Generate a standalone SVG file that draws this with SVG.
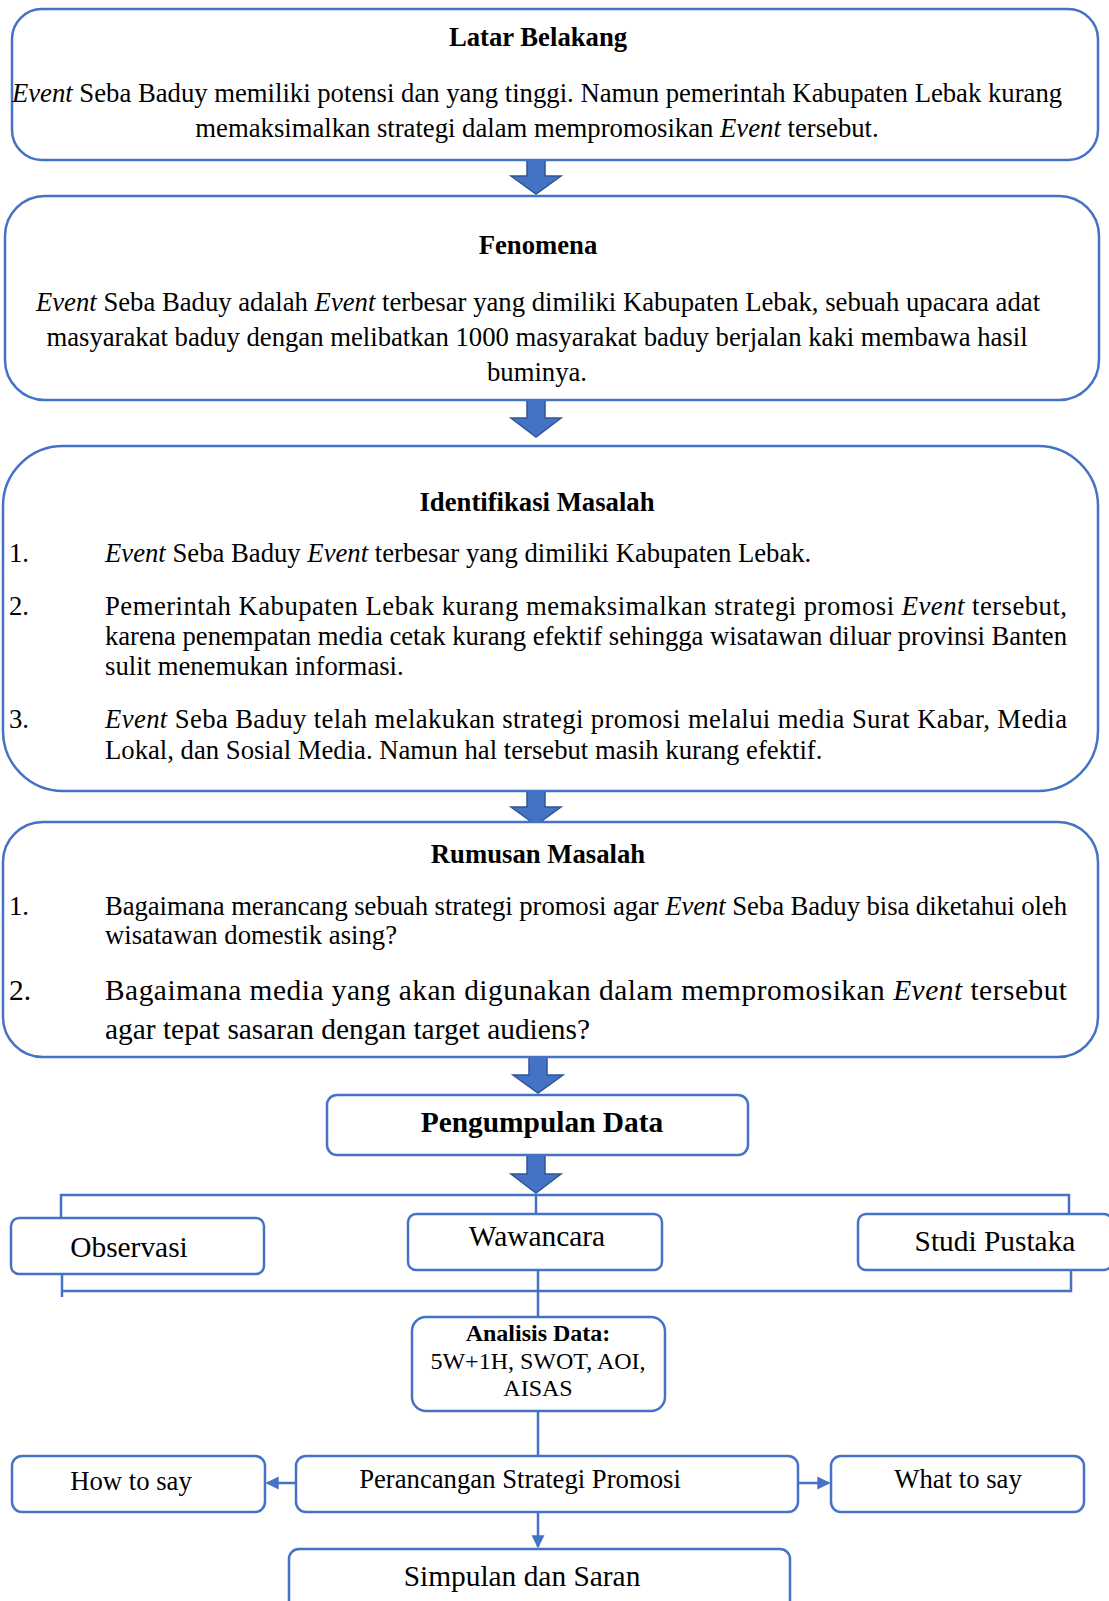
<svg xmlns="http://www.w3.org/2000/svg" width="1109" height="1601" viewBox="0 0 1109 1601">
<style>
.box{fill:#fff;stroke:#4472C4;stroke-width:2.5}
.blk{fill:#4472C4;stroke:#2F5597;stroke-width:1.5}
.ln{fill:none;stroke:#4472C4;stroke-width:2.5}
.t{font-family:"Liberation Serif","Times New Roman",serif;fill:#000}
.b{font-weight:bold}
.c{text-anchor:middle}
.i{font-style:italic}
.s26{font-size:26.7px}
.s24{font-size:24px}
.s29{font-size:29.4px}
</style>
<defs>
<marker id="ah" viewBox="0 0 10 10" refX="9" refY="5" markerWidth="13" markerHeight="14" markerUnits="userSpaceOnUse" orient="auto">
<path d="M0,0 L10,5 L0,10 Z" fill="#4472C4"/>
</marker>
</defs>
<rect width="1109" height="1601" fill="#fff"/>

<g id="connectors">
<path class="blk" d="M527,158 H545 V176 H561 L536,194 L511,176 H527 Z"/>
<path class="blk" d="M527,400 H545 V418 H561 L536,437 L511,418 H527 Z"/>
<path class="blk" d="M527,789 H545 V807 H561 L536,825 L511,807 H527 Z"/>
<path class="blk" d="M529,1057 H547 V1075 H563 L538,1093 L513,1075 H529 Z"/>
<path class="blk" d="M527,1155 H545 V1174 H561 L536,1193 L511,1174 H527 Z"/>
<path class="ln" d="M61,1218 V1195 H1069 V1214"/>
<path class="ln" d="M536,1195 V1214"/>
<path class="ln" d="M62,1274 V1297 M62,1291 H1071 V1270"/>
<path class="ln" d="M538,1270 V1317"/>
<path class="ln" d="M538,1411 V1456"/>
<path class="ln" d="M296,1483 H267" marker-end="url(#ah)"/>
<path class="ln" d="M798,1483 H829" marker-end="url(#ah)"/>
<path class="ln" d="M538,1512 V1547" marker-end="url(#ah)"/>
</g>

<g id="latar-belakang">
<rect class="box" x="12" y="9" width="1086" height="151" rx="30"/>
<text class="t b c s26" x="538" y="46">Latar Belakang</text>
<text class="t c s26" x="537" y="102"><tspan class="i">Event</tspan> Seba Baduy memiliki potensi dan yang tinggi. Namun pemerintah Kabupaten Lebak kurang</text>
<text class="t c s26" x="537" y="137">memaksimalkan strategi dalam mempromosikan <tspan class="i">Event</tspan> tersebut.</text>
</g>

<g id="fenomena">
<rect class="box" x="5" y="196" width="1094" height="204" rx="40"/>
<text class="t b c s26" x="538" y="254">Fenomena</text>
<text class="t c s26" x="538" y="311"><tspan class="i">Event</tspan> Seba Baduy adalah <tspan class="i">Event</tspan> terbesar yang dimiliki Kabupaten Lebak, sebuah upacara adat</text>
<text class="t c s26" x="537" y="346">masyarakat baduy dengan melibatkan 1000 masyarakat baduy berjalan kaki membawa hasil</text>
<text class="t c s26" x="537" y="381">buminya.</text>
</g>

<g id="identifikasi-masalah">
<rect class="box" x="3" y="446" width="1095" height="345" rx="60"/>
<text class="t b c s26" x="537" y="511">Identifikasi Masalah</text>
<text class="t s26" x="9" y="562">1.</text>
<text class="t s26" x="105" y="562"><tspan class="i">Event</tspan> Seba Baduy <tspan class="i">Event</tspan> terbesar yang dimiliki Kabupaten Lebak.</text>
<text class="t s26" x="9" y="615">2.</text>
<text class="t s26" x="105" y="615" textLength="962" lengthAdjust="spacing">Pemerintah Kabupaten Lebak kurang memaksimalkan strategi promosi <tspan class="i">Event</tspan> tersebut,</text>
<text class="t s26" x="105" y="645" textLength="962" lengthAdjust="spacing">karena penempatan media cetak kurang efektif sehingga wisatawan diluar provinsi Banten</text>
<text class="t s26" x="105" y="675">sulit menemukan informasi.</text>
<text class="t s26" x="9" y="728">3.</text>
<text class="t s26" x="105" y="728" textLength="962" lengthAdjust="spacing"><tspan class="i">Event</tspan> Seba Baduy telah melakukan strategi promosi melalui media Surat Kabar, Media</text>
<text class="t s26" x="105" y="759">Lokal, dan Sosial Media. Namun hal tersebut masih kurang efektif.</text>
</g>

<g id="rumusan-masalah">
<rect class="box" x="3" y="822" width="1095" height="235" rx="40"/>
<text class="t b c s26" x="538" y="863">Rumusan Masalah</text>
<text class="t s26" x="9" y="915">1.</text>
<text class="t s26" x="105" y="915" textLength="962" lengthAdjust="spacing">Bagaimana merancang sebuah strategi promosi agar <tspan class="i">Event</tspan> Seba Baduy bisa diketahui oleh</text>
<text class="t s26" x="105" y="944">wisatawan domestik asing?</text>
<text class="t s29" x="9" y="1000">2.</text>
<text class="t s29" x="105" y="1000" textLength="962" lengthAdjust="spacing">Bagaimana media yang akan digunakan dalam mempromosikan <tspan class="i">Event</tspan> tersebut</text>
<text class="t s29" x="105" y="1039">agar tepat sasaran dengan target audiens?</text>
</g>

<g id="pengumpulan-data">
<rect class="box" x="327" y="1095" width="421" height="60" rx="10"/>
<text class="t b c s29" x="542" y="1132">Pengumpulan Data</text>
</g>

<g id="observasi">
<rect class="box" x="11" y="1218" width="253" height="56" rx="8"/>
<text class="t c s29" x="129" y="1257">Observasi</text>
</g>

<g id="wawancara">
<rect class="box" x="408" y="1214" width="254" height="56" rx="8"/>
<text class="t c s29" x="537" y="1246">Wawancara</text>
</g>

<g id="studi-pustaka">
<rect class="box" x="858" y="1214" width="254" height="56" rx="8"/>
<text class="t c s29" x="995" y="1251">Studi Pustaka</text>
</g>

<g id="analisis-data">
<rect class="box" x="412" y="1317" width="253" height="94" rx="14"/>
<text class="t b c s24" x="538" y="1341">Analisis Data:</text>
<text class="t c s24" x="538" y="1369">5W+1H, SWOT, AOI,</text>
<text class="t c s24" x="538" y="1396">AISAS</text>
</g>

<g id="how-to-say">
<rect class="box" x="12" y="1456" width="253" height="56" rx="10"/>
<text class="t c s26" x="131" y="1490">How to say</text>
</g>

<g id="perancangan">
<rect class="box" x="296" y="1456" width="502" height="56" rx="10"/>
<text class="t c s26" x="520" y="1488">Perancangan Strategi Promosi</text>
</g>

<g id="what-to-say">
<rect class="box" x="831" y="1456" width="253" height="56" rx="10"/>
<text class="t c s26" x="958" y="1488">What to say</text>
</g>

<g id="simpulan">
<rect class="box" x="289" y="1549" width="501" height="70" rx="10"/>
<text class="t c s29" x="522" y="1586">Simpulan dan Saran</text>
</g>
</svg>
